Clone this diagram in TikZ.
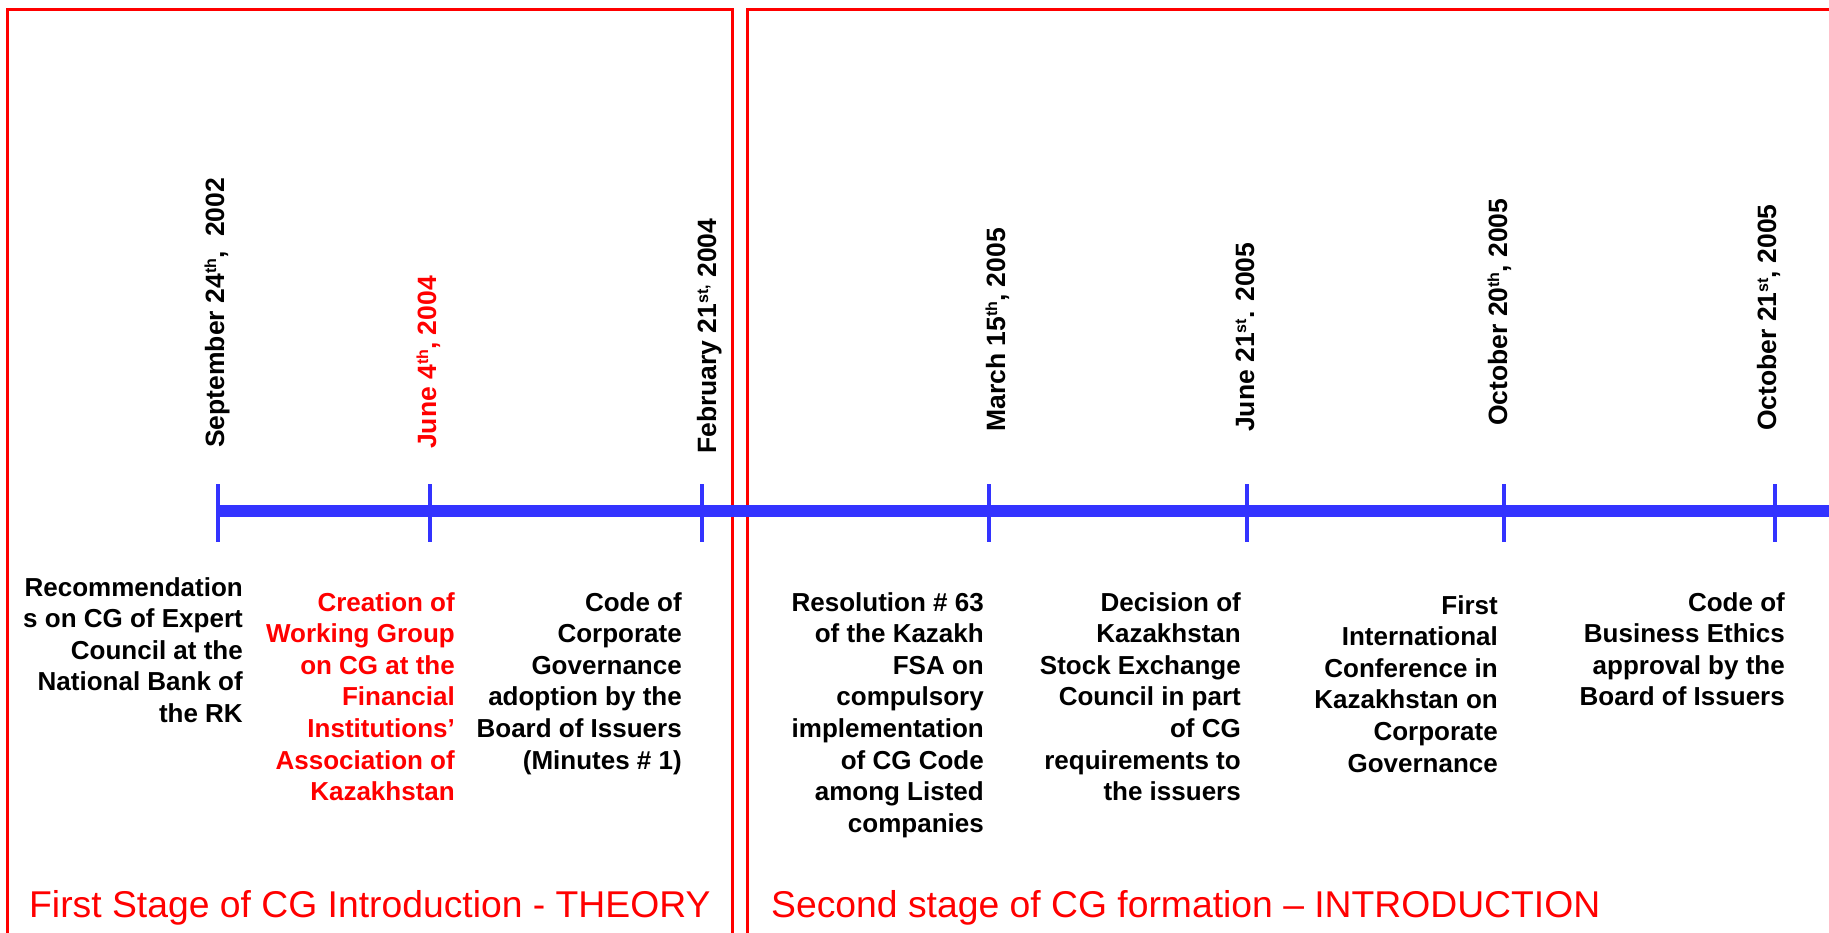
\documentclass[tikz,border=0pt]{standalone}
\usepackage{fontspec}
\setmainfont{Liberation Sans}
\definecolor{tlblue}{RGB}{51,51,255}
\newcommand{\ordsup}[1]{\raisebox{8pt}{\fontsize{16}{16}\selectfont #1}}

\begin{document}
\begin{tikzpicture}[x=1pt, y=-1pt,
      datelbl/.style={font=\fontsize{26.5}{32}\selectfont\bfseries, rotate=90,
                      anchor=base west, inner sep=0pt},
      evt/.style={font=\fontsize{26}{31.6}\selectfont\bfseries, align=right,
                  anchor=north east, inner sep=0pt},
      stagelbl/.style={font=\fontsize{37.3}{44}\selectfont, text=red,
                       anchor=base west, inner sep=0pt},
      stagebox/.style={draw=red, line width=3pt},
      tline/.style={draw=tlblue, line width=11.5pt},
      tickmk/.style={draw=tlblue, line width=4pt}]

    \useasboundingbox (0,0) rectangle (1829,933);
    \clip (0,0) rectangle (1829,933);

    % ---- Layout ----
    \def\ty{511}     % timeline y
    \def\bt{9.5}     % top of the stage boxes
    \def\bb{950}     % stage boxes run off the bottom

    % ---- Stage boxes ----
    \draw[stagebox] (7,\bb) -- (7,\bt) -- (732.5,\bt) -- (732.5,\bb);
    \draw[stagebox] (747,\bb) -- (747,\bt) -- (1840,\bt);

    % ---- Timeline ----
    \coordinate (t1) at (218,\ty);
    \coordinate (t2) at (430,\ty);
    \coordinate (t3) at (702,\ty);
    \coordinate (t4) at (989,\ty);
    \coordinate (t5) at (1247,\ty);
    \coordinate (t6) at (1504,\ty);
    \coordinate (t7) at (1775,\ty);
    \coordinate (tend) at (1840,\ty);
    \draw[tline] (t1) -- (tend);

    % ticks
    \draw[tickmk] (t1) ++(0,-27) -- ++(0,58);
    \draw[tickmk] (t2) ++(0,-27) -- ++(0,58);
    \draw[tickmk] (t3) ++(0,-27) -- ++(0,58);
    \draw[tickmk] (t4) ++(0,-27) -- ++(0,58);
    \draw[tickmk] (t5) ++(0,-27) -- ++(0,58);
    \draw[tickmk] (t6) ++(0,-27) -- ++(0,58);
    \draw[tickmk] (t7) ++(0,-27) -- ++(0,58);

    % ---- Dates (rotated) ----
    \node[datelbl] (d1) at (224,448)  {September 24\ordsup{th},\ \ 2002};
    \node[datelbl, text=red] (d2) at (436,449) {June 4\ordsup{th}, 2004};
    \node[datelbl] (d3) at (716,454)  {February 21\ordsup{st,} 2004};
    \node[datelbl] (d4) at (1005,432) {March 15\ordsup{th}, 2005};
    \node[datelbl] (d5) at (1254,432) {June 21\ordsup{st}. 2005};
    \node[datelbl] (d6) at (1507,426) {October 20\ordsup{th},\ 2005};
    \node[datelbl] (d7) at (1776,431) {October 21\ordsup{st},\ 2005};

    % ---- Events ----
    \node[evt] (e1) at (243,577) {Recommendation\\s on CG of Expert\\Council at the\\National Bank of\\the RK};
    \node[evt, text=red] (e2) at (455,592) {Creation of\\Working Group\\on CG at the\\Financial\\Institutions’\\Association of\\Kazakhstan};
    \node[evt] (e3) at (682,592) {Code of\\Corporate\\Governance\\adoption by the\\Board of Issuers\\(Minutes \# 1)};
    \node[evt] (e4) at (984,592) {Resolution \# 63\\of the Kazakh\\FSA on\\compulsory\\implementation\\of CG Code\\among Listed\\companies};
    \node[evt] (e5) at (1241,592) {Decision of\\Kazakhstan\\Stock Exchange\\Council in part\\of CG\\requirements to\\the issuers};
    \node[evt] (e6) at (1498,595) {First\\International\\Conference in\\Kazakhstan on\\Corporate\\Governance};
    \node[evt] (e7) at (1785,592) {Code of\\Business Ethics\\approval by the\\Board of Issuers};

    % ---- Stage captions ----
    \node[stagelbl] (s1) at (29,917)  {First Stage of CG Introduction - THEORY};
    \node[stagelbl] (s2) at (771,917) {Second stage of CG formation \textendash{} INTRODUCTION};

\end{tikzpicture}
\end{document}
